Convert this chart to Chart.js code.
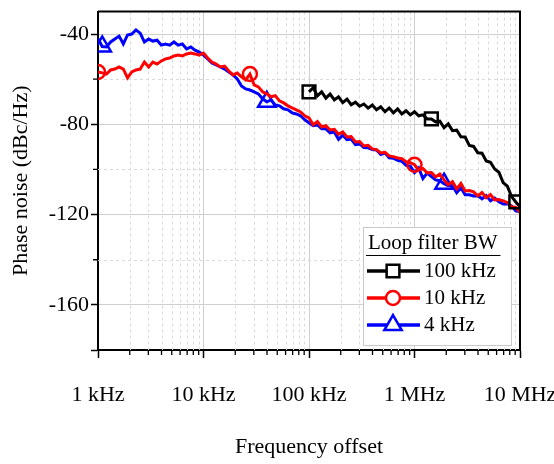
<!DOCTYPE html>
<html>
<head>
<meta charset="utf-8">
<script src="https://cdn.jsdelivr.net/npm/chart.js@4.4.1/dist/chart.umd.min.js"></script>
<style>
  html, body { margin: 0; padding: 0; background: #fff; }
</style>
</head>
<body>
<canvas id="pnChart" width="554" height="464"></canvas>
<script>
// offset frequencies (kHz), shared by all three traces
const freqKHz = [
  1, 1.096, 1.202, 1.318, 1.445, 1.585, 1.738, 1.905, 2.089, 2.291, 2.512, 2.754, 3.02, 3.311, 3.631, 3.981, 4.365, 4.786, 5.248, 5.754, 6.31, 6.918, 7.586, 8.318, 9.12,
  10, 10.96, 12.02, 13.18, 14.45, 15.85, 17.38, 19.05, 20.89, 22.91, 25.12, 27.54, 30.2, 33.11, 36.31, 39.81, 43.65, 47.86, 52.48, 57.54, 63.1, 69.18, 75.86, 83.18, 91.2,
  100, 109.6, 120.2, 131.8, 144.5, 158.5, 173.8, 190.5, 208.9, 229.1, 251.2, 275.4, 302, 331.1, 363.1, 398.1, 436.5, 478.6, 524.8, 575.4, 631, 691.8, 758.6, 831.8, 912,
  1000, 1096, 1202, 1318, 1445, 1585, 1738, 1905, 2089, 2291, 2512, 2754, 3020, 3311, 3631, 3981, 4365, 4786, 5248, 5754, 6310, 6918, 7586, 8318, 9120,
  10000
];

// 100 kHz loop BW trace starts at 100 kHz offset
const pn100k = [
  -65.6, -63.8, -67.4, -65.6, -68.4, -66.6, -69.2, -67.8, -70.4, -68.8,
  -71.3, -70.2, -72, -71, -72.8, -71.4, -73.5, -72.2, -74.4, -72.8,
  -74.9, -73.2, -75.4, -74, -75.8, -74.4, -76.2, -75.8, -77.6, -77.6,
  -78.9, -78.6, -81.5, -79.8, -82.8, -82.6, -85.5, -85.6, -89.4, -89.8,
  -92.6, -92.8, -96.2, -96.8, -99.8, -101.2, -105.8, -107.4, -112, -114.4,
  -116.5
];
const pn10k = [
  -56.8, -57.2, -57.7, -55.9, -55.5, -54.6, -55.5, -59.4, -56.8, -55.9,
  -55.5, -52.4, -54.6, -52.4, -53.3, -51.9, -51, -50.6, -49.7, -49.3,
  -49.7, -48.8, -48.4, -48.8, -49.3, -48.4, -50.6, -52.4, -53.3, -54.6,
  -54.2, -56.4, -58.1, -57.3, -59, -60.3, -57.7, -62.5, -63.4, -65.6,
  -66.5, -67.8, -67.3, -69.6, -70.5, -71.8, -72.7, -73.6, -74.5, -76.2,
  -77.1, -80.2, -78.8, -81.2, -80.6, -82.5, -82.2, -84.4, -83.4, -85.6,
  -85.4, -87.8, -87.6, -89.6, -89.3, -90.9, -91.2, -92.7, -92.4, -94,
  -94.3, -94.9, -95.2, -96.6, -97, -97.9, -100.2, -99.6, -101.5, -101.4,
  -103.3, -102, -104.6, -106.8, -105.4, -108.6, -106.2, -109.5, -109.3, -109.9,
  -111.7, -110.2, -112.5, -111.1, -113.5, -113.3, -113.9, -114.6, -116.5, -116.8,
  -119.1
];
const pn4k = [
  -42, -45.5, -45.7, -43.5, -42.2, -40.9, -44.4, -40.4, -40, -38.2,
  -39.6, -43.5, -42.2, -43.1, -42.7, -44.9, -44.4, -44.9, -43.5, -44.9,
  -44.4, -46.6, -45.7, -47.1, -48, -49.3, -51, -52.8, -53.7, -54.6,
  -55.5, -56.8, -58.1, -59.9, -63, -64.3, -64.8, -65.6, -66.5, -68.7,
  -70, -69.2, -71.4, -71.8, -73.1, -73.6, -74.9, -75.4, -76.2, -78,
  -79.3, -80.6, -80.3, -82, -82, -83.8, -83.4, -86.6, -84.8, -86.8,
  -86.5, -89, -88.7, -90.3, -90.4, -91.2, -91.4, -93.4, -92.6, -94.8,
  -95, -96, -96.4, -98.2, -98.5, -101.4, -99.4, -104, -101.6, -103.1,
  -104.6, -105, -106.3, -107.2, -107.2, -110.3, -108.1, -111.2, -111.2, -111.7,
  -111.6, -113, -111.6, -113.9, -112.7, -114.3, -115.3, -115.2, -116.2, -118.3,
  -118.7
];

// which samples carry a marker
const marks100k = [0, 29, 49];
const marks10k = [0, 36, 75];
const marks4k = [1, 40, 82];

const seriesNames = ['100 kHz', '10 kHz', '4 kHz'];
const legendTitle = 'Loop filter BW';

const xTickValues = [1e3, 1e4, 1e5, 1e6, 1e7];
const xTickLabels = ['1 kHz', '10 kHz', '100 kHz', '1 MHz', '10 MHz'];
const yTickValues = [-180, -160, -120, -80, -40];
const yMinorValues = [-140, -100, -60];
const minorMantissa = [2, 3, 4, 5, 6, 7, 8, 9];

const serif = '"Liberation Serif", "Times New Roman", serif';

function toPoints(values, offset) {
  return values.map((v, i) => ({ x: freqKHz[i + offset] * 1000, y: v }));
}

function xMinorValues() {
  const out = [];
  for (let d = 1e3; d < 1e7; d *= 10) minorMantissa.forEach(m => out.push(m * d));
  return out;
}

const extras = {
  id: 'extras',
  beforeDatasetsDraw(chart) {
    const { ctx, chartArea: a, scales: { x, y } } = chart;
    ctx.save();
    ctx.strokeStyle = '#dadada';
    ctx.lineWidth = 1;
    ctx.setLineDash([3, 3]);
    ctx.beginPath();
    xMinorValues().forEach(v => {
      const px = Math.round(x.getPixelForValue(v)) + 0.5;
      ctx.moveTo(px, a.top); ctx.lineTo(px, a.bottom);
    });
    yMinorValues.forEach(v => {
      const py = Math.round(y.getPixelForValue(v)) + 0.5;
      ctx.moveTo(a.left, py); ctx.lineTo(a.right, py);
    });
    ctx.stroke();
    ctx.restore();
  },
  afterDraw(chart) {
    const { ctx, chartArea: a, scales: { x, y } } = chart;
    ctx.save();
    // minor ticks
    ctx.strokeStyle = '#000';
    ctx.lineWidth = 1.3;
    ctx.beginPath();
    xMinorValues().forEach(v => {
      const px = x.getPixelForValue(v);
      ctx.moveTo(px, a.bottom); ctx.lineTo(px, a.bottom + 5);
    });
    yMinorValues.forEach(v => {
      const py = y.getPixelForValue(v);
      ctx.moveTo(a.left, py); ctx.lineTo(a.left - 5, py);
    });
    ctx.stroke();
    // top / right frame
    ctx.lineWidth = 2;
    ctx.beginPath();
    ctx.moveTo(a.left, a.top); ctx.lineTo(a.right, a.top); ctx.lineTo(a.right, a.bottom);
    ctx.stroke();

    // legend box
    const bx = a.right - 157, by = a.bottom - 123, bw = 148, bh = 118;
    ctx.fillStyle = '#fff';
    ctx.fillRect(bx, by, bw, bh);
    ctx.strokeStyle = '#c8c8c8';
    ctx.lineWidth = 1;
    ctx.strokeRect(bx + 0.5, by + 0.5, bw, bh);
    ctx.fillStyle = '#000';
    ctx.font = '21px ' + serif;
    ctx.textBaseline = 'middle';
    ctx.textAlign = 'left';
    ctx.fillText(legendTitle, bx + 5, by + 16);
    const tw = ctx.measureText(legendTitle).width;
    ctx.strokeStyle = '#000';
    ctx.beginPath();
    ctx.moveTo(bx + 3, by + 28.5); ctx.lineTo(bx + 8 + tw, by + 28.5);
    ctx.stroke();
    chart.data.datasets.forEach((ds, i) => {
      const ry = by + 44 + i * 27;
      ctx.strokeStyle = ds.borderColor;
      ctx.lineWidth = 3.5;
      ctx.beginPath();
      ctx.moveTo(bx + 4, ry); ctx.lineTo(bx + 57, ry);
      ctx.stroke();
      ctx.lineWidth = 2.5;
      ctx.fillStyle = '#fff';
      Chart.helpers.drawPoint(ctx, { pointStyle: ds.pointStyle, radius: ds.markerSize, borderWidth: 2.5, rotation: 0 }, bx + 30, ry);
      ctx.fillStyle = '#000';
      ctx.fillText(ds.label, bx + 61, ry);
    });
    ctx.restore();
  }
};

function markerRadius(marks, r) {
  return c => marks.includes(c.dataIndex) ? r : 0;
}

new Chart(document.getElementById('pnChart'), {
  type: 'line',
  data: {
    datasets: [
      {
        label: seriesNames[0], data: toPoints(pn100k, 50),
        borderColor: '#000000', pointStyle: 'rect', markerSize: 9,
        pointRadius: markerRadius(marks100k, 9)
      },
      {
        label: seriesNames[1], data: toPoints(pn10k, 0),
        borderColor: '#ff0000', pointStyle: 'circle', markerSize: 7,
        pointRadius: markerRadius(marks10k, 7)
      },
      {
        label: seriesNames[2], data: toPoints(pn4k, 0),
        borderColor: '#0000ff', pointStyle: 'triangle', markerSize: 10,
        pointRadius: markerRadius(marks4k, 10)
      }
    ].map(ds => Object.assign(ds, {
      borderWidth: 3,
      tension: 0,
      pointBorderColor: ds.borderColor,
      pointBackgroundColor: 'rgba(0,0,0,0)',
      pointBorderWidth: 2.5,
      pointHoverRadius: 0
    }))
  },
  options: {
    responsive: false,
    animation: false,
    events: [],
    layout: { padding: { top: 10, right: 34, left: 0, bottom: 0 } },
    plugins: { legend: { display: false }, tooltip: { enabled: false } },
    scales: {
      x: {
        type: 'logarithmic',
        min: 1e3,
        max: 1e7,
        afterBuildTicks: s => { s.ticks = xTickValues.map(v => ({ value: v })); },
        afterFit: s => { s.height = 114; s.paddingLeft = 0; s.paddingRight = 0; },
        ticks: {
          callback: (v, i) => xTickLabels[i],
          color: '#000',
          font: { family: serif, size: 22 },
          padding: 24,
          maxRotation: 0,
          autoSkip: false
        },
        grid: { color: '#cfcfcf', lineWidth: 1, tickLength: 8, tickColor: '#000', tickWidth: 1.5 },
        border: { color: '#000', width: 2 },
        title: {
          display: true, text: 'Frequency offset', color: '#000',
          font: { family: serif, size: 22 }, padding: { top: 0, bottom: 4 }
        }
      },
      y: {
        min: -180,
        max: -30,
        afterBuildTicks: s => { s.ticks = yTickValues.map(v => ({ value: v })); },
        afterFit: s => { s.width = 98; s.paddingTop = 0; s.paddingBottom = 0; },
        ticks: {
          callback: v => (v === -180 ? '' : String(v)),
          color: '#000',
          font: { family: serif, size: 22 },
          padding: 2,
          autoSkip: false
        },
        grid: { color: '#cfcfcf', lineWidth: 1, tickLength: 7, tickColor: '#000', tickWidth: 1.5 },
        border: { color: '#000', width: 2 },
        title: {
          display: true, text: 'Phase noise (dBc/Hz)', color: '#000',
          font: { family: serif, size: 22 }, padding: { top: 8, bottom: 0 }
        }
      }
    }
  },
  plugins: [extras]
});
</script>
</body>
</html>
